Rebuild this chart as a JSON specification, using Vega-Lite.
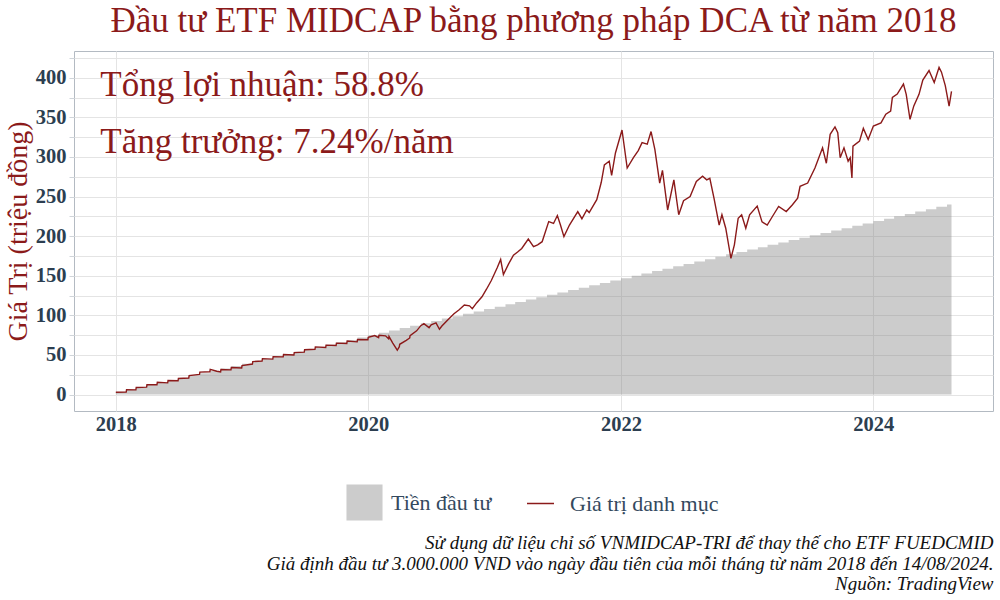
{
  "$schema": "https://vega.github.io/schema/vega-lite/v6.json",
  "background": "white",
  "padding": {"left": 3, "top": 3, "right": 8, "bottom": 4},
  "title": {
    "text": ["Sử dụng dữ liệu chỉ số VNMIDCAP-TRI để thay thế cho ETF FUEDCMID", "Giả định đầu tư 3.000.000 VND vào ngày đầu tiên của mỗi tháng từ năm 2018 đến 14/08/2024.", "Nguồn: TradingView"],
    "orient": "bottom", "anchor": "end", "font": "Liberation Serif", "fontStyle": "italic", "fontWeight": "normal",
    "fontSize": 19, "lineHeight": 20.5, "color": "#111111", "offset": 13
  },
  "config": {
    "font": "Liberation Serif",
    "view": {"stroke": "#b3bac2", "strokeWidth": 1},
    "axis": {
      "labelFont": "Liberation Serif", "labelFontWeight": "bold", "labelFontSize": 20.5, "labelColor": "#2c3e50",
      "gridColor": "#e4e4e4", "gridWidth": 1, "domain": false, "tickColor": "#d0d5da", "tickSize": 5,
      "titleFont": "Liberation Serif", "titleFontWeight": "normal", "titleColor": "#8b1a1a"
    },
    "legend": {"labelFont": "Liberation Serif", "labelFontSize": 22, "labelColor": "#34495e"}
  },
  "datasets": {
    "invest": [
      {"date": "2018-01-01", "value": 3}, {"date": "2018-02-01", "value": 6}, {"date": "2018-03-01", "value": 9}, {"date": "2018-04-01", "value": 12},
      {"date": "2018-05-01", "value": 15}, {"date": "2018-06-01", "value": 18}, {"date": "2018-07-01", "value": 21}, {"date": "2018-08-01", "value": 24},
      {"date": "2018-09-01", "value": 27}, {"date": "2018-10-01", "value": 30}, {"date": "2018-11-01", "value": 33}, {"date": "2018-12-01", "value": 36},
      {"date": "2019-01-01", "value": 39}, {"date": "2019-02-01", "value": 42}, {"date": "2019-03-01", "value": 45}, {"date": "2019-04-01", "value": 48},
      {"date": "2019-05-01", "value": 51}, {"date": "2019-06-01", "value": 54}, {"date": "2019-07-01", "value": 57}, {"date": "2019-08-01", "value": 60},
      {"date": "2019-09-01", "value": 63}, {"date": "2019-10-01", "value": 66}, {"date": "2019-11-01", "value": 69}, {"date": "2019-12-01", "value": 72},
      {"date": "2020-01-01", "value": 75}, {"date": "2020-02-01", "value": 78}, {"date": "2020-03-01", "value": 81}, {"date": "2020-04-01", "value": 84},
      {"date": "2020-05-01", "value": 87}, {"date": "2020-06-01", "value": 90}, {"date": "2020-07-01", "value": 93}, {"date": "2020-08-01", "value": 96},
      {"date": "2020-09-01", "value": 99}, {"date": "2020-10-01", "value": 102}, {"date": "2020-11-01", "value": 105}, {"date": "2020-12-01", "value": 108},
      {"date": "2021-01-01", "value": 111}, {"date": "2021-02-01", "value": 114}, {"date": "2021-03-01", "value": 117}, {"date": "2021-04-01", "value": 120},
      {"date": "2021-05-01", "value": 123}, {"date": "2021-06-01", "value": 126}, {"date": "2021-07-01", "value": 129}, {"date": "2021-08-01", "value": 132},
      {"date": "2021-09-01", "value": 135}, {"date": "2021-10-01", "value": 138}, {"date": "2021-11-01", "value": 141}, {"date": "2021-12-01", "value": 144},
      {"date": "2022-01-01", "value": 147}, {"date": "2022-02-01", "value": 150}, {"date": "2022-03-01", "value": 153}, {"date": "2022-04-01", "value": 156},
      {"date": "2022-05-01", "value": 159}, {"date": "2022-06-01", "value": 162}, {"date": "2022-07-01", "value": 165}, {"date": "2022-08-01", "value": 168},
      {"date": "2022-09-01", "value": 171}, {"date": "2022-10-01", "value": 174}, {"date": "2022-11-01", "value": 177}, {"date": "2022-12-01", "value": 180},
      {"date": "2023-01-01", "value": 183}, {"date": "2023-02-01", "value": 186}, {"date": "2023-03-01", "value": 189}, {"date": "2023-04-01", "value": 192},
      {"date": "2023-05-01", "value": 195}, {"date": "2023-06-01", "value": 198}, {"date": "2023-07-01", "value": 201}, {"date": "2023-08-01", "value": 204},
      {"date": "2023-09-01", "value": 207}, {"date": "2023-10-01", "value": 210}, {"date": "2023-11-01", "value": 213}, {"date": "2023-12-01", "value": 216},
      {"date": "2024-01-01", "value": 219}, {"date": "2024-02-01", "value": 222}, {"date": "2024-03-01", "value": 225}, {"date": "2024-04-01", "value": 228},
      {"date": "2024-05-01", "value": 231}, {"date": "2024-06-01", "value": 234}, {"date": "2024-07-01", "value": 237}, {"date": "2024-08-01", "value": 240},
      {"date": "2024-08-14", "value": 240}
    ],
    "portfolio": [
      {"date": "2018-01-01", "value": 3}, {"date": "2018-01-31", "value": 3.1}, {"date": "2018-02-01", "value": 6.1}, {"date": "2018-02-28", "value": 6.0},
      {"date": "2018-03-01", "value": 9.0}, {"date": "2018-03-31", "value": 9.4}, {"date": "2018-04-01", "value": 12.4}, {"date": "2018-04-30", "value": 12.5},
      {"date": "2018-05-01", "value": 15.5}, {"date": "2018-05-31", "value": 14.8}, {"date": "2018-06-01", "value": 17.8}, {"date": "2018-06-30", "value": 17.4},
      {"date": "2018-07-01", "value": 20.4}, {"date": "2018-07-31", "value": 21.0}, {"date": "2018-08-01", "value": 24.0}, {"date": "2018-08-31", "value": 25.4},
      {"date": "2018-09-01", "value": 28.4}, {"date": "2018-09-30", "value": 28.9}, {"date": "2018-10-01", "value": 31.9}, {"date": "2018-10-20", "value": 29.5},
      {"date": "2018-10-31", "value": 28.6}, {"date": "2018-11-01", "value": 31.6}, {"date": "2018-11-30", "value": 31.2}, {"date": "2018-12-01", "value": 34.2},
      {"date": "2018-12-31", "value": 33.5}, {"date": "2019-01-01", "value": 36.5}, {"date": "2019-01-31", "value": 38.6}, {"date": "2019-02-01", "value": 41.6},
      {"date": "2019-02-28", "value": 42.4}, {"date": "2019-03-01", "value": 45.4}, {"date": "2019-03-31", "value": 44.8}, {"date": "2019-04-01", "value": 47.8},
      {"date": "2019-04-30", "value": 47.6}, {"date": "2019-05-01", "value": 50.6}, {"date": "2019-05-31", "value": 50.0}, {"date": "2019-06-01", "value": 53.0},
      {"date": "2019-06-30", "value": 53.6}, {"date": "2019-07-01", "value": 56.6}, {"date": "2019-07-31", "value": 57.2}, {"date": "2019-08-01", "value": 60.2},
      {"date": "2019-08-31", "value": 59.4}, {"date": "2019-09-01", "value": 62.4}, {"date": "2019-09-30", "value": 62.0}, {"date": "2019-10-01", "value": 65.0},
      {"date": "2019-10-31", "value": 64.6}, {"date": "2019-11-01", "value": 67.6}, {"date": "2019-11-30", "value": 66.6}, {"date": "2019-12-01", "value": 69.6},
      {"date": "2019-12-31", "value": 69.2}, {"date": "2020-01-01", "value": 72.2}, {"date": "2020-01-20", "value": 74.5}, {"date": "2020-01-31", "value": 72.0},
      {"date": "2020-02-01", "value": 75.0}, {"date": "2020-02-20", "value": 74.2}, {"date": "2020-02-29", "value": 70.5}, {"date": "2020-03-01", "value": 73.5},
      {"date": "2020-03-12", "value": 65.0}, {"date": "2020-03-25", "value": 56.0}, {"date": "2020-03-31", "value": 60.5}, {"date": "2020-04-01", "value": 63.5},
      {"date": "2020-04-20", "value": 68.5}, {"date": "2020-04-30", "value": 71.5}, {"date": "2020-05-01", "value": 74.5}, {"date": "2020-05-20", "value": 80.5},
      {"date": "2020-06-01", "value": 87.0}, {"date": "2020-06-10", "value": 89.5}, {"date": "2020-06-25", "value": 84.5}, {"date": "2020-07-01", "value": 88.0},
      {"date": "2020-07-15", "value": 90.5}, {"date": "2020-07-25", "value": 82.5}, {"date": "2020-08-01", "value": 86.5}, {"date": "2020-08-20", "value": 95.0},
      {"date": "2020-09-05", "value": 102.0}, {"date": "2020-09-20", "value": 107.0}, {"date": "2020-10-05", "value": 113.0}, {"date": "2020-10-20", "value": 112.0},
      {"date": "2020-10-28", "value": 108.5}, {"date": "2020-11-10", "value": 116.0}, {"date": "2020-11-25", "value": 123.5}, {"date": "2020-12-08", "value": 133.0},
      {"date": "2020-12-22", "value": 144.0}, {"date": "2021-01-08", "value": 160.0}, {"date": "2021-01-18", "value": 170.5}, {"date": "2021-01-26", "value": 151.5},
      {"date": "2021-02-10", "value": 165.0}, {"date": "2021-02-24", "value": 176.0}, {"date": "2021-03-08", "value": 180.0}, {"date": "2021-03-20", "value": 184.5},
      {"date": "2021-04-08", "value": 196.4}, {"date": "2021-04-23", "value": 186.7}, {"date": "2021-05-05", "value": 189.0}, {"date": "2021-05-18", "value": 193.0},
      {"date": "2021-06-06", "value": 218.4}, {"date": "2021-06-20", "value": 216.0}, {"date": "2021-07-01", "value": 226.0}, {"date": "2021-07-10", "value": 214.0},
      {"date": "2021-07-20", "value": 199.4}, {"date": "2021-08-05", "value": 214.0}, {"date": "2021-08-29", "value": 231.0}, {"date": "2021-09-10", "value": 222.0},
      {"date": "2021-09-24", "value": 233.0}, {"date": "2021-10-01", "value": 229.8}, {"date": "2021-10-23", "value": 246.0}, {"date": "2021-11-05", "value": 268.0},
      {"date": "2021-11-14", "value": 290.0}, {"date": "2021-11-28", "value": 294.6}, {"date": "2021-12-05", "value": 276.8}, {"date": "2021-12-16", "value": 305.0},
      {"date": "2022-01-04", "value": 334.0}, {"date": "2022-01-19", "value": 286.0}, {"date": "2022-02-06", "value": 299.0}, {"date": "2022-02-20", "value": 308.0},
      {"date": "2022-03-03", "value": 318.0}, {"date": "2022-03-18", "value": 316.0}, {"date": "2022-03-29", "value": 332.0}, {"date": "2022-04-09", "value": 309.5},
      {"date": "2022-04-23", "value": 267.0}, {"date": "2022-05-01", "value": 283.0}, {"date": "2022-05-16", "value": 233.0}, {"date": "2022-06-03", "value": 271.0},
      {"date": "2022-06-17", "value": 227.0}, {"date": "2022-07-01", "value": 244.7}, {"date": "2022-07-20", "value": 250.0}, {"date": "2022-08-07", "value": 269.0},
      {"date": "2022-08-25", "value": 275.6}, {"date": "2022-09-06", "value": 271.0}, {"date": "2022-09-15", "value": 273.0}, {"date": "2022-09-27", "value": 248.0},
      {"date": "2022-10-12", "value": 214.0}, {"date": "2022-10-20", "value": 227.0}, {"date": "2022-10-31", "value": 210.0}, {"date": "2022-11-15", "value": 172.0},
      {"date": "2022-11-25", "value": 189.0}, {"date": "2022-12-06", "value": 222.6}, {"date": "2022-12-16", "value": 227.0}, {"date": "2022-12-28", "value": 210.0},
      {"date": "2023-01-08", "value": 227.0}, {"date": "2023-01-30", "value": 238.0}, {"date": "2023-02-13", "value": 218.0}, {"date": "2023-02-28", "value": 214.0},
      {"date": "2023-03-15", "value": 224.8}, {"date": "2023-04-02", "value": 237.5}, {"date": "2023-04-24", "value": 231.0}, {"date": "2023-05-12", "value": 239.6},
      {"date": "2023-05-27", "value": 248.0}, {"date": "2023-06-03", "value": 263.0}, {"date": "2023-06-25", "value": 267.0}, {"date": "2023-07-16", "value": 286.0},
      {"date": "2023-08-07", "value": 311.5}, {"date": "2023-08-18", "value": 292.0}, {"date": "2023-08-29", "value": 328.5}, {"date": "2023-09-12", "value": 337.8},
      {"date": "2023-09-20", "value": 330.6}, {"date": "2023-09-27", "value": 299.0}, {"date": "2023-10-08", "value": 311.5}, {"date": "2023-10-20", "value": 294.6},
      {"date": "2023-10-26", "value": 299.0}, {"date": "2023-10-31", "value": 273.4}, {"date": "2023-11-03", "value": 313.7}, {"date": "2023-11-22", "value": 320.0},
      {"date": "2023-12-03", "value": 336.0}, {"date": "2023-12-17", "value": 322.0}, {"date": "2024-01-01", "value": 339.0}, {"date": "2024-01-23", "value": 343.0},
      {"date": "2024-02-06", "value": 354.0}, {"date": "2024-02-20", "value": 358.0}, {"date": "2024-02-25", "value": 375.0}, {"date": "2024-03-10", "value": 379.3},
      {"date": "2024-03-28", "value": 392.0}, {"date": "2024-04-05", "value": 379.0}, {"date": "2024-04-16", "value": 347.5}, {"date": "2024-04-27", "value": 364.4},
      {"date": "2024-05-12", "value": 379.0}, {"date": "2024-05-23", "value": 397.0}, {"date": "2024-06-10", "value": 409.0}, {"date": "2024-06-25", "value": 394.0},
      {"date": "2024-07-09", "value": 413.0}, {"date": "2024-07-16", "value": 407.0}, {"date": "2024-07-27", "value": 390.0}, {"date": "2024-08-07", "value": 364.0},
      {"date": "2024-08-14", "value": 382.6}
    ],
    "notes": [
      {"date": "2017-11-17", "value": 377, "label": "Tổng lợi nhuận: 58.8%"},
      {"date": "2017-11-17", "value": 305, "label": "Tăng trưởng: 7.24%/năm"}
    ]
  },
  "vconcat": [
    {
      "width": 919,
      "height": 360,
      "title": {
        "text": "Đầu tư ETF MIDCAP bằng phương pháp DCA từ năm 2018",
        "frame": "group", "anchor": "middle", "font": "Liberation Serif", "fontSize": 35, "fontWeight": "normal",
        "color": "#8b1a1a", "offset": 12
      },
      "encoding": {
        "x": {
          "field": "date", "type": "temporal",
          "scale": {"domain": [{"year": 2017, "month": 9, "date": 2}, {"year": 2024, "month": 12, "date": 12}]},
          "axis": {"title": null, "values": [{"year": 2018}, {"year": 2020}, {"year": 2022}, {"year": 2024}], "format": "%Y", "labelPadding": 3, "ticks": false}
        },
        "y": {
          "field": "value", "type": "quantitative",
          "scale": {"domain": [-20.7, 433.7], "nice": false, "zero": false},
          "axis": {
            "title": "Giá Trị (triệu đồng)", "titleFontSize": 28, "titlePadding": 3,
            "values": [0, 25, 50, 75, 100, 125, 150, 175, 200, 225, 250, 275, 300, 325, 350, 375, 400, 425],
            "labelExpr": "datum.value % 50 == 0 ? datum.label : ''", "labelPadding": 3
          }
        }
      },
      "layer": [
        {
          "data": {"name": "invest"},
          "mark": {"type": "area", "interpolate": "step-after", "fillOpacity": 0.4},
          "encoding": {
            "fill": {
              "datum": "Tiền đầu tư",
              "scale": {"domain": ["Tiền đầu tư"], "range": ["#808080"]},
              "legend": {"title": null, "orient": "none", "legendX": 272, "legendY": 433, "symbolType": "square", "symbolSize": 1300, "symbolOpacity": 0.4, "symbolStrokeWidth": 0, "labelOffset": 8}
            }
          }
        },
        {
          "data": {"name": "portfolio"},
          "mark": {"type": "line", "strokeWidth": 1.4},
          "encoding": {
            "stroke": {
              "datum": "Giá trị danh mục",
              "scale": {"domain": ["Giá trị danh mục"], "range": ["#8b1a1a"]},
              "legend": {"title": null, "orient": "none", "legendX": 452, "legendY": 438, "symbolType": "stroke", "symbolSize": 730, "symbolStrokeWidth": 1.5, "labelOffset": 15}
            }
          }
        },
        {
          "data": {"name": "notes"},
          "mark": {"type": "text", "align": "left", "baseline": "alphabetic", "font": "Liberation Serif", "fontSize": 35, "color": "#8b1a1a"},
          "encoding": {"text": {"field": "label"}}
        }
      ]
    }
  ]
}
